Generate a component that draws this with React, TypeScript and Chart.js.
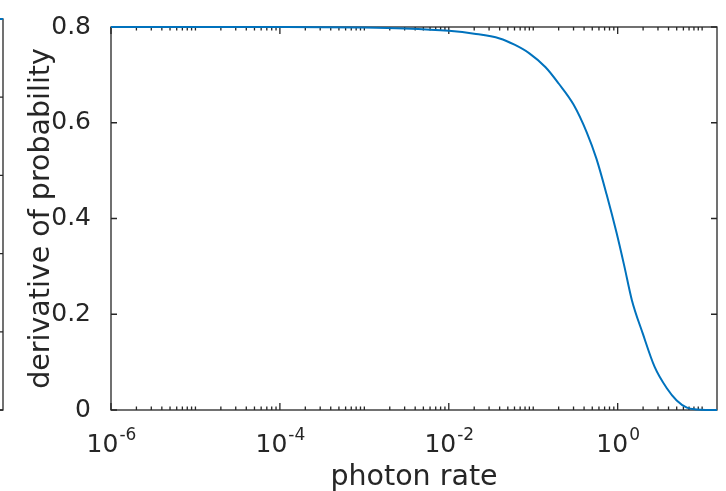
import { useEffect, useRef } from "react";
import { Chart, registerables } from "chart.js";
Chart.register(...registerables);

// ---- data ----
const PHOTON_RATE = [1e-6, 1e-5, 1e-4, 1e-3, 3e-3, 0.01, 0.02, 0.04, 0.06, 0.09, 0.14, 0.2, 0.3, 0.43, 0.56, 0.74, 0.97, 1.2, 1.47, 1.98, 2.74, 3.8, 5.0, 6.6, 8.6, 11, 15];
const DERIVATIVE = [0.8, 0.8, 0.8, 0.799, 0.797, 0.792, 0.786, 0.776, 0.763, 0.745, 0.716, 0.682, 0.638, 0.58, 0.525, 0.45, 0.37, 0.3, 0.23, 0.16, 0.09, 0.046, 0.02, 0.005, 0.001, 0, 0];

// neighbouring (cropped) subplot: only its right edge is visible
const PROB_RATE = [5, 10, 15];
const PROB_VALUE = [0.993, 1, 1];
const PROB_Y_TICKS = [0, 0.2, 0.4, 0.6, 0.8, 1];

const X_MIN = 1e-6;
const X_MAX = 15;
const Y_MIN = 0;
const Y_MAX = 0.8;
const Y_TICKS = [0, 0.2, 0.4, 0.6, 0.8];
const X_MAJOR_EXP = [-6, -4, -2, 0];
const X_DECADES = [-6, -5, -4, -3, -2, -1, 0, 1];

const X_TITLE = "photon rate";
const Y_TITLE = "derivative of probability";

const AXIS = "#262626";
const LINE = "#0072BD";
const FONT = "'DejaVu Sans', sans-serif";

function frameAndTicks(chart: any, yTicks: number[], sides: { left: boolean; right: boolean }, xTicks: boolean) {
  const { ctx, chartArea } = chart;
  const { left, right, top, bottom } = chartArea;
  const xs = chart.scales.x;
  const ys = chart.scales.y;
  ctx.save();
  ctx.strokeStyle = AXIS;
  ctx.lineWidth = 1.3;
  ctx.strokeRect(left, top, right - left, bottom - top);
  ctx.beginPath();
  for (const v of yTicks) {
    const py = ys.getPixelForValue(v);
    if (sides.left) {
      ctx.moveTo(left, py);
      ctx.lineTo(left + 6, py);
    }
    if (sides.right) {
      ctx.moveTo(right, py);
      ctx.lineTo(right - 6, py);
    }
  }
  if (xTicks) {
    for (const d of X_DECADES) {
      for (let k = 1; k <= 9; k++) {
        const v = k * Math.pow(10, d);
        if (v < X_MIN * 0.999 || v > X_MAX * 1.001) continue;
        const major = k === 1 && X_MAJOR_EXP.includes(d);
        const len = major ? 7 : 3.5;
        const px = xs.getPixelForValue(v);
        ctx.moveTo(px, bottom);
        ctx.lineTo(px, bottom - len);
        ctx.moveTo(px, top);
        ctx.lineTo(px, top + len);
      }
    }
  }
  ctx.stroke();
  ctx.restore();
}

function drawXLabels(chart: any) {
  const { ctx } = chart;
  const xs = chart.scales.x;
  ctx.save();
  ctx.fillStyle = AXIS;
  ctx.textBaseline = "alphabetic";
  ctx.textAlign = "left";
  for (const e of X_MAJOR_EXP) {
    const px = xs.getPixelForValue(Math.pow(10, e));
    ctx.font = `25px ${FONT}`;
    const base = "10";
    const bw = ctx.measureText(base).width;
    ctx.font = `17px ${FONT}`;
    const sup = String(e);
    const sw = ctx.measureText(sup).width;
    const x0 = px - (bw + sw) / 2;
    ctx.font = `25px ${FONT}`;
    ctx.fillText(base, x0, 452);
    ctx.font = `17px ${FONT}`;
    ctx.fillText(sup, x0 + bw + 1, 440);
  }
  ctx.restore();
}

function MainChart() {
  const ref = useRef<HTMLCanvasElement | null>(null);
  useEffect(() => {
    if (!ref.current) return;
    const chart = new Chart(ref.current, {
      type: "line",
      data: {
        datasets: [
          {
            data: PHOTON_RATE.map((x, i) => ({ x, y: DERIVATIVE[i] })),
            borderColor: LINE,
            borderWidth: 2,
            pointRadius: 0,
            fill: false,
            cubicInterpolationMode: "monotone",
            clip: false as any,
          },
        ],
      },
      options: {
        animation: false,
        responsive: false,
        devicePixelRatio: 1,
        layout: { padding: { top: 20, right: 9, left: 0, bottom: 0 } },
        plugins: { legend: { display: false }, tooltip: { enabled: false } },
        scales: {
          x: {
            type: "logarithmic",
            min: X_MIN,
            max: X_MAX,
            grid: { display: false },
            border: { display: false },
            ticks: { display: false },
            title: {
              display: true,
              text: X_TITLE,
              color: AXIS,
              font: { family: FONT, size: 28.5, lineHeight: 1 },
              padding: { top: 0, bottom: -1 },
            },
            afterFit: (s: any) => {
              s.height = 81;
            },
          },
          y: {
            type: "linear",
            min: Y_MIN,
            max: Y_MAX,
            grid: { display: false },
            border: { display: false },
            afterBuildTicks: (s: any) => {
              s.ticks = Y_TICKS.map((v) => ({ value: v }));
            },
            ticks: {
              color: AXIS,
              font: { family: FONT, size: 25 },
              padding: 12,
              callback: (v: any) => String(Number(Number(v).toFixed(1))),
            },
            title: {
              display: true,
              text: Y_TITLE,
              color: AXIS,
              font: { family: FONT, size: 28.5, lineHeight: 1 },
              padding: { top: 27, bottom: 0 },
            },
            afterFit: (s: any) => {
              s.width = 111;
            },
          },
        },
      },
      plugins: [
        {
          id: "matlabFrame",
          beforeDatasetsDraw: (c: any) => {
            frameAndTicks(c, Y_TICKS, { left: true, right: true }, true);
            drawXLabels(c);
          },
        },
      ],
    } as any);
    return () => chart.destroy();
  }, []);
  return <canvas ref={ref} width={726} height={491} style={{ position: "absolute", left: 0, top: 0 }} />;
}

function NeighbourChart() {
  const ref = useRef<HTMLCanvasElement | null>(null);
  useEffect(() => {
    if (!ref.current) return;
    const chart = new Chart(ref.current, {
      type: "line",
      data: {
        datasets: [
          {
            data: PROB_RATE.map((x, i) => ({ x, y: PROB_VALUE[i] })),
            borderColor: LINE,
            borderWidth: 2,
            pointRadius: 0,
            fill: false,
            clip: false as any,
          },
        ],
      },
      options: {
        animation: false,
        responsive: false,
        devicePixelRatio: 1,
        layout: { padding: { top: 19, right: 4, left: 10, bottom: 81 } },
        plugins: { legend: { display: false }, tooltip: { enabled: false } },
        scales: {
          x: { type: "logarithmic", min: X_MIN, max: X_MAX, display: false },
          y: { type: "linear", min: 0, max: 1, display: false },
        },
      },
      plugins: [
        {
          id: "matlabFrame2",
          beforeDatasetsDraw: (c: any) => {
            frameAndTicks(c, PROB_Y_TICKS, { left: true, right: true }, false);
          },
        },
      ],
    } as any);
    return () => chart.destroy();
  }, []);
  return <canvas ref={ref} width={200} height={491} style={{ position: "absolute", left: -193, top: 0 }} />;
}

export default function App() {
  return (
    <div
      style={{
        position: "absolute",
        left: 0,
        top: 0,
        width: 726,
        height: 491,
        overflow: "hidden",
        background: "#ffffff",
      }}
    >
      <NeighbourChart />
      <MainChart />
    </div>
  );
}
